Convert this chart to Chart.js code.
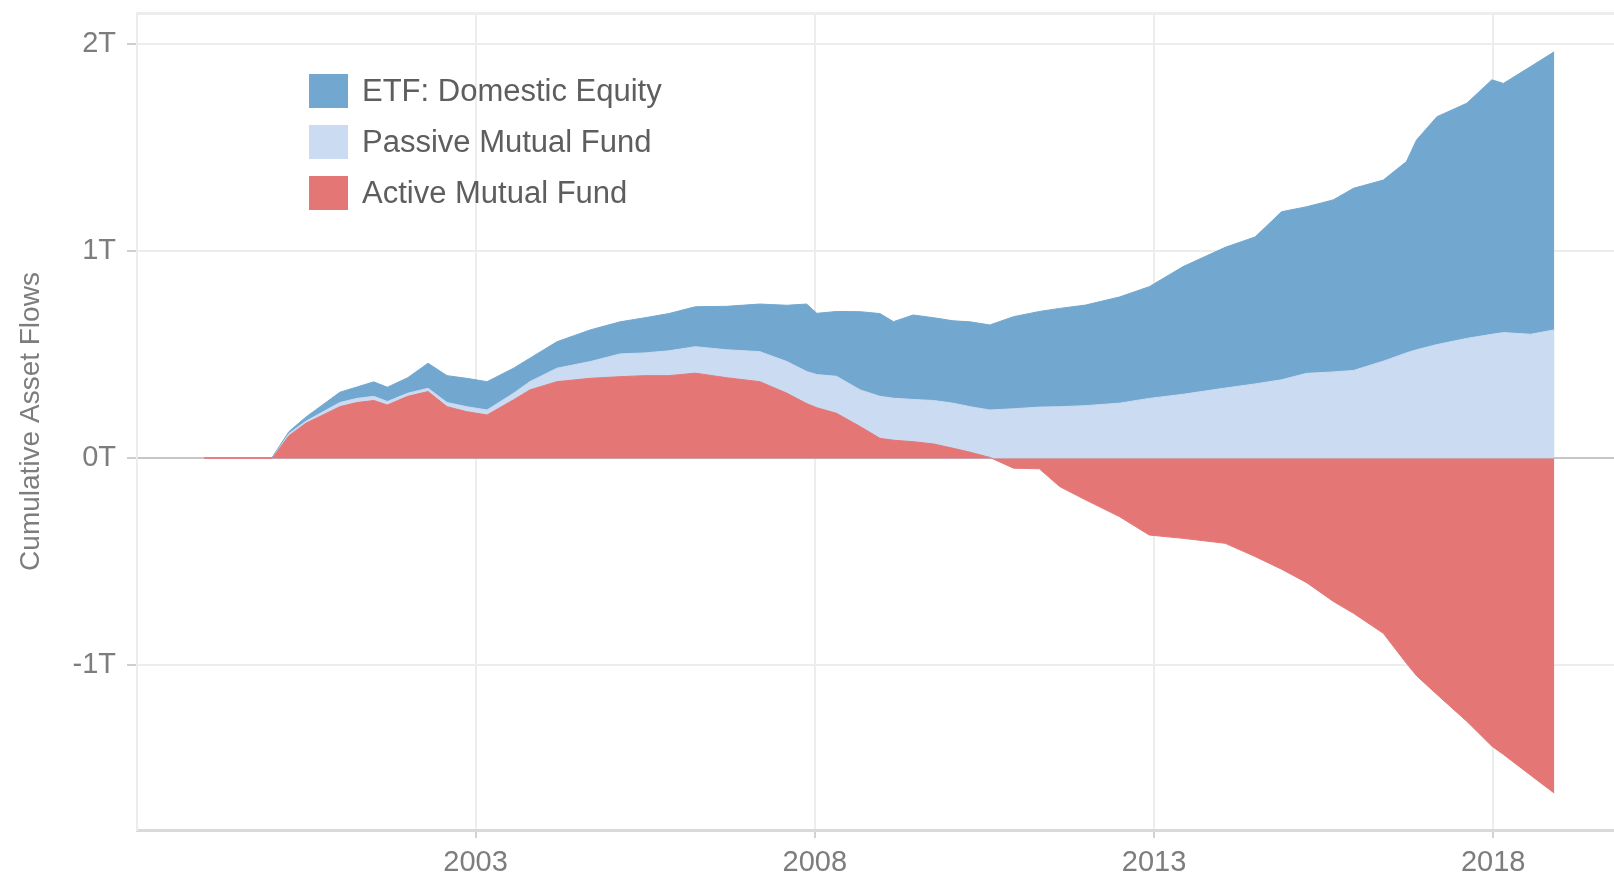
<!DOCTYPE html>
<html>
<head>
<meta charset="utf-8">
<title>Cumulative Asset Flows</title>
<script src="https://cdn.jsdelivr.net/npm/chart.js@4.4.1/dist/chart.umd.min.js"></script>
<style>
  html, body { margin: 0; padding: 0; background: #fff; }
  #wrap { width: 1614px; height: 877px; }
</style>
</head>
<body>
<div id="wrap"><canvas id="flows" width="1614" height="877"></canvas></div>
<script>
// Dates as decimal years, flows in trillions of dollars
const years = [1999.0, 1999.5, 2000.0, 2000.25, 2000.5, 2000.75, 2001.0, 2001.25, 2001.5, 2001.7,
  2002.0, 2002.3, 2002.58, 2002.87, 2003.17, 2003.56, 2003.8, 2004.2, 2004.69, 2005.13,
  2005.5, 2005.85, 2006.24, 2006.7, 2007.19, 2007.59, 2007.88, 2008.03, 2008.32, 2008.67,
  2008.96, 2009.16, 2009.45, 2009.75, 2010.04, 2010.29, 2010.58, 2010.93, 2011.31, 2011.61,
  2011.99, 2012.49, 2012.93, 2013.43, 2014.05, 2014.49, 2014.88, 2015.25, 2015.64, 2015.94,
  2016.38, 2016.72, 2016.87, 2017.17, 2017.61, 2017.98, 2018.15, 2018.55, 2018.9];

const activeFund = [0, 0, 0, 0.11, 0.17, 0.21, 0.25, 0.27, 0.28, 0.258,
  0.30, 0.323, 0.25, 0.226, 0.21, 0.283, 0.331, 0.371, 0.387, 0.395,
  0.40, 0.40, 0.412, 0.39, 0.371, 0.315, 0.265, 0.245, 0.218, 0.154,
  0.097, 0.088, 0.081, 0.07, 0.049, 0.03, 0.005, -0.047, -0.05, -0.136,
  -0.2, -0.281, -0.37, -0.386, -0.41, -0.474, -0.535, -0.6, -0.69, -0.748,
  -0.845, -0.99, -1.05, -1.14, -1.27, -1.39, -1.43, -1.53, -1.617];

const passiveFund = [0, 0, 0, 0.01, 0.01, 0.015, 0.02, 0.02, 0.02, 0.017,
  0.015, 0.016, 0.02, 0.024, 0.024, 0.032, 0.04, 0.065, 0.081, 0.11,
  0.11, 0.12, 0.128, 0.135, 0.145, 0.153, 0.155, 0.16, 0.179, 0.177,
  0.203, 0.203, 0.204, 0.21, 0.218, 0.22, 0.229, 0.24, 0.248, 0.25,
  0.255, 0.267, 0.29, 0.31, 0.34, 0.36, 0.38, 0.411, 0.418, 0.425,
  0.47, 0.51, 0.525, 0.55, 0.58, 0.60, 0.608, 0.60, 0.621];

const etfEquity = [0.004, 0.004, 0.004, 0.01, 0.02, 0.035, 0.05, 0.055, 0.07, 0.069,
  0.075, 0.121, 0.13, 0.137, 0.137, 0.121, 0.113, 0.128, 0.153, 0.155,
  0.17, 0.18, 0.193, 0.21, 0.23, 0.272, 0.326, 0.296, 0.313, 0.378,
  0.40, 0.37, 0.408, 0.40, 0.398, 0.41, 0.411, 0.445, 0.462, 0.475,
  0.486, 0.513, 0.54, 0.617, 0.68, 0.71, 0.812, 0.805, 0.831, 0.88,
  0.875, 0.924, 1.014, 1.101, 1.136, 1.229, 1.204, 1.293, 1.344];

const seriesNames = ['Active Mutual Fund', 'Passive Mutual Fund', 'ETF: Domestic Equity'];
const seriesColors = ['#e47776', '#cbdbf1', '#72a8cf'];

const xTicks = [2003, 2008, 2013, 2018];
const yTicks = [-1, 0, 1, 2];
const xMin = 1998.01, xMax = 2019.78;
const yMin = -1.795, yMax = 2.152;

const FONT = '"Liberation Sans", Arial, Helvetica, sans-serif';

function toPoints(values) {
	return values.map((v, i) => ({ x: years[i], y: v }));
}

// Legend box drawn inside the plot, ETF first
const insideLegend = {
	id: 'insideLegend',
	afterDatasetsDraw(chart) {
		const ctx = chart.ctx;
		const sets = chart.data.datasets.slice().reverse();
		ctx.save();
		ctx.font = '31px ' + FONT;
		ctx.textBaseline = 'middle';
		ctx.textAlign = 'left';
		sets.forEach((ds, i) => {
			const top = 74 + i * 51;
			ctx.fillStyle = ds.backgroundColor;
			ctx.fillRect(309, top, 39, 34);
			ctx.fillStyle = '#5e5e5e';
			ctx.fillText(ds.label, 362, top + 18);
		});
		ctx.restore();
	}
};

const seriesData = [activeFund, passiveFund, etfEquity];

let chart = new Chart(document.getElementById('flows').getContext('2d'), {
	type: 'line',
	data: {
		datasets: seriesData.map((values, i) => ({
			label: seriesNames[i],
			data: toPoints(values),
			backgroundColor: seriesColors[i],
			borderColor: seriesColors[i],
			borderWidth: 1,
			pointRadius: 0,
			tension: 0,
			fill: 'origin'
		}))
	},
	options: {
		responsive: false,
		animation: false,
		layout: { padding: { top: 13, right: 0, bottom: 0, left: 0 } },
		plugins: {
			legend: { display: false },
			tooltip: { enabled: false }
		},
		scales: {
			x: {
				type: 'linear',
				min: xMin,
				max: xMax,
				afterBuildTicks: (scale) => { scale.ticks = xTicks.map(v => ({ value: v })); },
				afterFit: (scale) => {
					scale.height = 47;
					scale.paddingLeft = 0;
					scale.paddingRight = 0;
				},
				ticks: {
					callback: (v) => String(v),
					color: '#7d7d7d',
					padding: 8,
					font: { family: FONT, size: 29 },
					maxRotation: 0
				},
				grid: {
					color: '#ededed',
					lineWidth: 2,
					tickLength: 8,
					tickColor: '#d2d2d2'
				},
				border: { color: '#d9d9d9', width: 3 }
			},
			y: {
				stacked: true,
				min: yMin,
				max: yMax,
				afterBuildTicks: (scale) => { scale.ticks = yTicks.concat([yMax]).map(v => ({ value: v })); },
				afterFit: (scale) => {
					// fixed gutter; tick labels never overhang the plot top
					scale.width = 137;
					scale.paddingTop = 0;
					scale.paddingBottom = 0;
				},
				ticks: {
					callback: (v) => (v === yMax ? '' : v + 'T'),
					color: '#7d7d7d',
					padding: 11,
					font: { family: FONT, size: 29 }
				},
				grid: {
					color: (c) => (c.tick && c.tick.value === 0 ? '#c6c6c6' : '#ededed'),
					lineWidth: (c) => (c.tick && c.tick.value === yMax ? 3 : 2),
					tickLength: 10,
					tickColor: (c) => (c.tick && c.tick.value === yMax ? 'rgba(0,0,0,0)' : '#cfcfcf')
				},
				border: { color: '#ececec', width: 2 },
				title: {
					display: true,
					text: 'Cumulative Asset Flows',
					color: '#7d7d7d',
					font: { family: FONT, size: 28 },
					padding: { top: 14, bottom: 0 }
				}
			}
		}
	},
	plugins: [insideLegend]
});
</script>
</body>
</html>
